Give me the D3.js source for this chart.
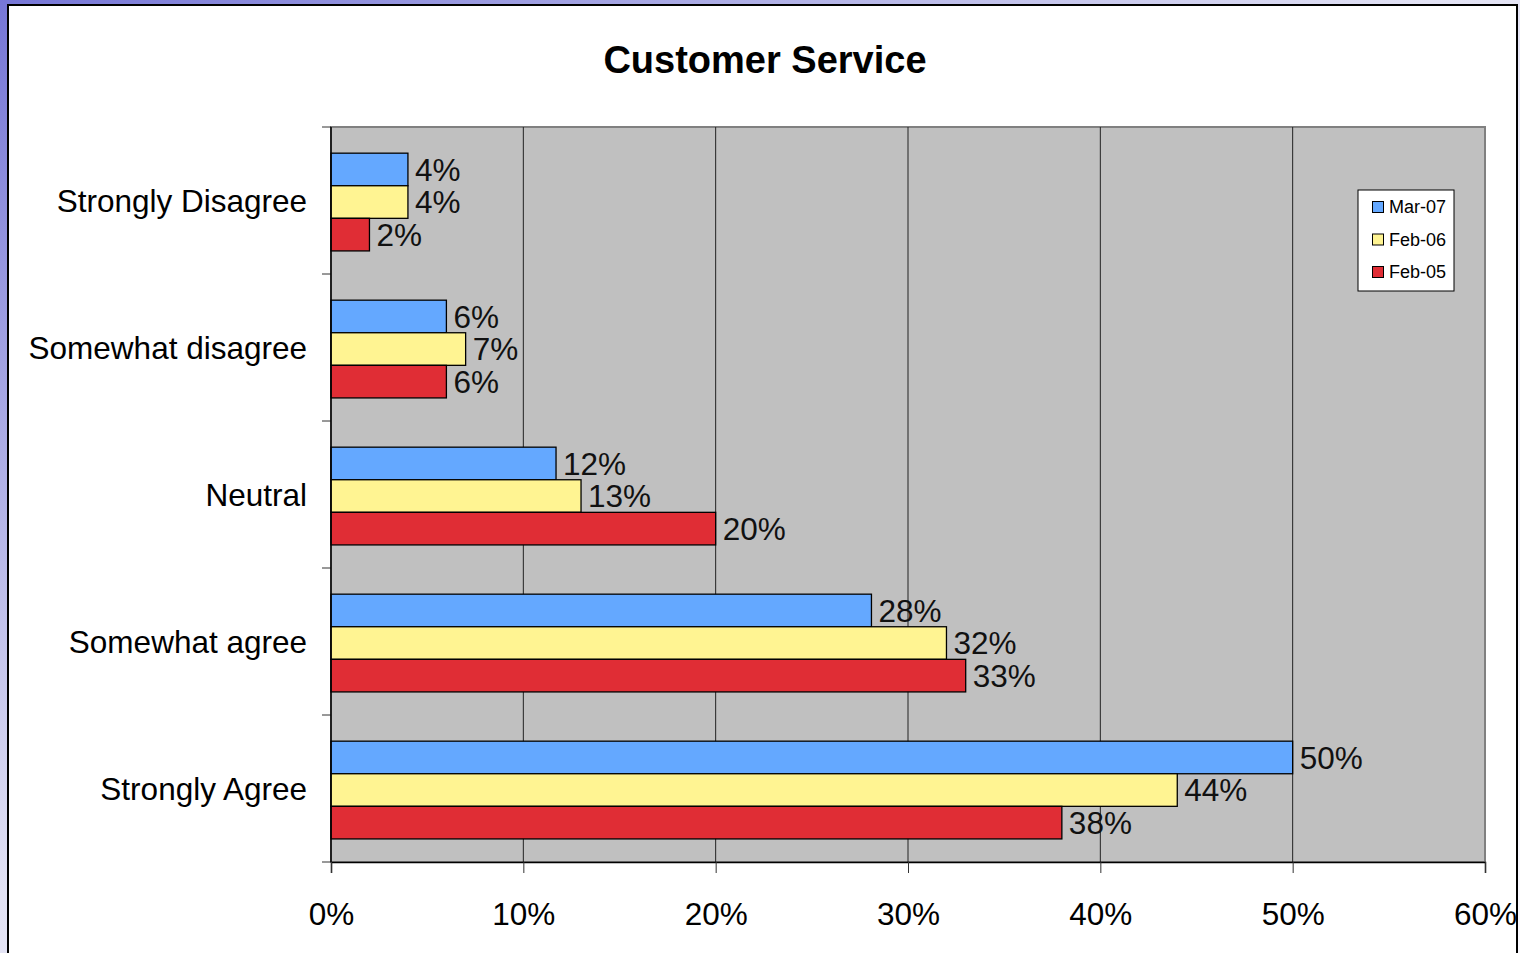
<!DOCTYPE html>
<html><head><meta charset="utf-8">
<script src="https://cdn.jsdelivr.net/npm/d3@7"></script>
<style>body{margin:0;overflow:hidden;background:#fff}svg{display:block;font-family:"Liberation Sans",Arial,sans-serif}</style>
</head><body><svg id="c" width="1520" height="953"></svg>
<script>
const categories = ["Strongly Disagree","Somewhat disagree","Neutral","Somewhat agree","Strongly Agree"];
const seriesNames = ["Mar-07","Feb-06","Feb-05"];
const seriesColors = ["#64a8ff","#fff492","#e02d35"];
const mar07 = [0.04,0.06,0.117,0.281,0.50];
const feb06 = [0.04,0.07,0.13,0.32,0.44];
const feb05 = [0.02,0.06,0.20,0.33,0.38];
const xTicks = [0,0.1,0.2,0.3,0.4,0.5,0.6];
const title = "Customer Service";
const seriesValues = [mar07, feb06, feb05];

const svg = d3.select("#c");
const defs = svg.append("defs");
const g1 = defs.append("linearGradient").attr("id","bg").attr("x1","0").attr("y1","0").attr("x2","1").attr("y2","1");
g1.append("stop").attr("offset","0").attr("stop-color","#7676d6");
g1.append("stop").attr("offset","0.47").attr("stop-color","#e2e2f4");
g1.append("stop").attr("offset","1").attr("stop-color","#fafaff");
svg.append("rect").attr("width",1520).attr("height",953).attr("fill","url(#bg)");
svg.append("rect").attr("x",8).attr("y",5).attr("width",1509).attr("height",960)
  .attr("fill","#fff").attr("stroke","#000").attr("stroke-width",2);

const L=331,R=1485,T=127,B=862;
const x = d3.scaleLinear().domain([0,0.6]).range([L,R]);
const y = d3.scaleBand().domain(categories).range([T,B]).padding(0);
const bw = y.bandwidth();
const ys = d3.scaleBand().domain(seriesNames).range([bw*0.178,bw*0.843]).padding(0);

svg.append("text").attr("x",765).attr("y",73).attr("text-anchor","middle")
  .attr("font-size",38).attr("font-weight","bold").text(title);

// plot area
svg.append("rect").attr("x",L).attr("y",T).attr("width",R-L).attr("height",B-T)
  .attr("fill","#c0c0c0").attr("stroke","#808080").attr("stroke-width",2);
svg.append("g").selectAll("line").data(xTicks.slice(1,-1)).join("line")
  .attr("x1",d=>x(d)).attr("x2",d=>x(d)).attr("y1",T).attr("y2",B)
  .attr("stroke","#222").attr("stroke-width",1);

// bars
const groups = svg.append("g").selectAll("g").data(categories).join("g")
  .attr("transform",c=>`translate(0,${y(c)})`);
groups.each(function(c,ci){
  const g = d3.select(this);
  seriesNames.forEach((s,si)=>{
    const v = seriesValues[si][ci];
    g.append("rect").attr("x",x(0)).attr("y",ys(s)).attr("width",x(v)-x(0)).attr("height",ys.bandwidth())
      .attr("fill",seriesColors[si]).attr("stroke","#000").attr("stroke-width",1.3);
    g.append("text").attr("x",x(v)+7).attr("y",ys(s)+ys.bandwidth()/2).attr("dy","0.36em")
      .attr("font-size",31.5).attr("fill","#111").text(d3.format(".0%")(v));
  });
});

// axes
const xAxis = d3.axisBottom(x).tickValues(xTicks).tickFormat(d3.format(".0%")).tickSize(11).tickPadding(30);
const gx = svg.append("g").attr("transform",`translate(0,${B})`).call(xAxis);
gx.select(".domain").attr("stroke","#000").attr("stroke-width",1.5);
gx.selectAll(".tick line").attr("stroke","#333");
gx.selectAll("text").attr("font-size",31.5).attr("fill","#000").attr("font-family","Liberation Sans, Arial, sans-serif");

const yEdges = d3.scaleLinear().domain([0,categories.length]).range([T,B]);
const gy = svg.append("g");
gy.selectAll("line").data(d3.range(categories.length+1)).join("line")
  .attr("x1",L-9).attr("x2",L).attr("y1",d=>yEdges(d)).attr("y2",d=>yEdges(d)).attr("stroke","#333");
gy.append("line").attr("x1",L).attr("x2",L).attr("y1",T).attr("y2",B).attr("stroke","#000").attr("stroke-width",1.5);
gy.selectAll("text").data(categories).join("text")
  .attr("x",307).attr("y",c=>y(c)+bw/2).attr("dy","0.36em").attr("text-anchor","end")
  .attr("font-size",31.5).attr("fill","#000").text(c=>c);

// legend
const lg = svg.append("g").attr("transform","translate(1358,190)");
lg.append("rect").attr("width",96).attr("height",101).attr("fill","#fff").attr("stroke","#000").attr("stroke-width",1);
seriesNames.forEach((s,i)=>{
  const cy = 17 + i*32.5;
  lg.append("rect").attr("x",14.5).attr("y",cy-5.5).attr("width",11).attr("height",11)
    .attr("fill",seriesColors[i]).attr("stroke","#000").attr("stroke-width",1);
  lg.append("text").attr("x",31).attr("y",cy).attr("dy","0.36em").attr("font-size",18).text(s);
});
</script></body></html>
